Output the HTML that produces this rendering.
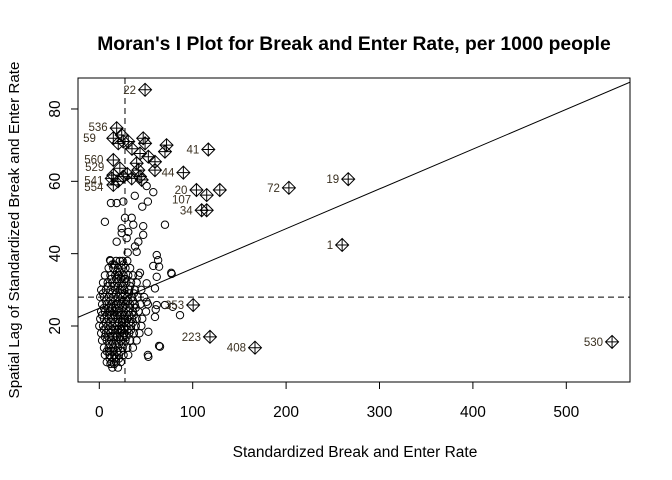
<!DOCTYPE html>
<html><head><meta charset="utf-8"><style>
html,body{margin:0;padding:0;background:#fff;}
svg{display:block;font-family:"Liberation Sans",Arial,sans-serif;}
</style></head><body>
<svg id="chart" width="672" height="480" viewBox="0 0 672 480"></svg>
<script>
const xTicks=[0,100,200,300,400,500];
const yTicks=[20,40,60,80];
const meanX=27.5, meanY=28;
const regIntercept=24.9, regSlope=0.11;
const points=[[12,38],[18,38],[22,38],[25,38],[30,38],[10,36],[15,36],[20,36],[24,36],[28,36],[33,36],
[6,34],[12,34],[17,34],[21,34],[26,34],[31,34],[36,34],[42,34],[4,32],[9,32],[14,32],[19,32],[24,32],[29,32],[34,32],[40,32],
[2,30],[7,30],[12,30],[17,30],[22,30],[27,30],[32,30],[38,30],[45,30],[1,28],[5,28],[10,28],[15,28],[20,28],[25,28],[30,28],[35,28],[41,28],[48,28],
[3,26],[8,26],[13,26],[18,26],[23,26],[28,26],[33,26],[38,26],[44,26],[52,26],[2,24],[6,24],[11,24],[16,24],[21,24],[26,24],[31,24],[36,24],[42,24],[50,24],
[1,22],[5,22],[10,22],[15,22],[20,22],[25,22],[30,22],[35,22],[40,22],[46,22],[0,20],[4,20],[9,20],[14,20],[19,20],[24,20],[29,20],[34,20],[39,20],[45,20],
[2,18],[7,18],[12,18],[17,18],[22,18],[27,18],[32,18],[37,18],[43,18],[3,16],[8,16],[13,16],[18,16],[23,16],[28,16],[33,16],[40,16],
[5,14],[10,14],[15,14],[20,14],[25,14],[30,14],[36,14],[6,12],[11,12],[16,12],[21,12],[26,12],[31,12],[8,10],[13,10],[18,10],[23,10],[14,8.5],[20,8.5],
[14,37],[19,35],[23,33],[16,31],[27,29],[12,27],[22,27],[17,25],[29,25],[8,23],[19,23],[24,21],[12,21],[17,19],[30,19],[6,17],[22,17],[14,15],[26,15],[10,13],[18,11],
[13,33],[18,33],[27,33],[33,31],[9,31],[20,31],[25,31],[4,29],[14,29],[18,29],[23,29],[32,29],[37,29],[7,27],[17,27],[26,27],[31,27],[36,27],
[5,25],[10,25],[14,25],[21,25],[25,25],[33,25],[39,25],[3,23],[13,23],[16,23],[22,23],[27,23],[32,23],[37,23],[7,21],[17,21],[21,21],[27,21],[32,21],[36,21],
[5,19],[10,19],[14,19],[20,19],[24,19],[27,19],[34,19],[10,17],[15,17],[19,17],[25,17],[29,17],[11,15],[17,15],[21,15],[8,13],[13,13],[19,13],[23,13],[16,11],[11,11],[21,11],
[20,34],[16,37],[26,37],[22,35],[28,33],[24,30],[29,27],[20,26],[24,23],[12,24],[27,22],[23,19],[26,18],[12,17],[15,13],[16,9.5],[12,9.5],
[12.5,54],[18.6,54],[25.7,54.4],[38,56],[50.7,58.7],[57.8,57],[52,54.4],[46,53],[6,48.8],[27.5,49.9],[34.7,49.9],[36.4,48],[47,47.6],[70.3,48],[24,47],[31,46],[24,45.7],[47,45.2],
[18.6,43.3],[29.3,44.3],[41.8,43.3],[38.2,42],[40,40.5],[30.4,40.3],[61.5,39.6],[63,38.2],[57.8,36.6],[64,36.4],[77,34.7],[11.5,38.2],
[43.6,34.7],[61.5,33.6],[77.5,34.4],[50.7,31.8],[59.6,30.4],[50.7,26.7],[61.5,25.8],[60.4,24.6],[59.6,22.5],[52.5,18.4],[65,14.3],[52.5,11.5],[86.4,23],[70.3,25.8],[78.6,25.3],[52,12],[64,14.5]];
const infl=[[49,85.3],[18.6,74.7],[24,72.8],[25.7,71],[20.3,70.5],[31,71],[47,71.9],[49,70.5],[72,70],[70.3,68.2],[116.7,68.8],[15,65.9],[43.6,67.7],[52.5,66.8],[59.6,65.4],[40,65],[22,63.6],[41.8,63.1],[59.6,63.1],[90,62.4],[13.3,60.8],[15,59],[15,61.7],[25.7,61.3],[34.7,60.8],[43.6,61.3],[45.4,60.4],[104,57.6],[115,56.2],[129,57.6],[109.6,52],[115,52],[15,71.9],[203,58.2],[266.5,60.6],[260,42.4],[100.5,25.8],[118.5,17],[166.7,14],[549,15.6],[30,62],[20,60],[35,69]];
const labels=[["22",49,85.3],["536",18.6,75],["59",6,72],["560",14,66],["529",15,64],["541",14,60.2],["554",14,58.4],["41",116.7,68.8],["44",90,62.4],["20",104,57.6],["107",108,55],["34",109.6,52],["72",203,58.2],["19",266.5,60.6],["1",260,42.4],["353",100.5,25.8],["223",118.5,17],["408",166.7,14],["530",549,15.6]];
const NS="http://www.w3.org/2000/svg";
const svg=document.getElementById('chart');
const L=78,R=630,T=78,B=382;
function sx(v){return 99.3+0.934*v;}
function sy(v){return 326-(v-20)*3.617;}
function mk(tag,attrs,parent){const e=document.createElementNS(NS,tag);for(const k in attrs)e.setAttribute(k,attrs[k]);(parent||svg).appendChild(e);return e;}
const defs=mk('defs',{});const cp=mk('clipPath',{id:'pc'},defs);mk('rect',{x:L,y:T,width:R-L,height:B-T},cp);
const title=mk('text',{x:354,y:50,'text-anchor':'middle','font-size':'19.3','font-weight':'bold'});title.textContent="Moran's I Plot for Break and Enter Rate, per 1000 people";


const xt=mk('text',{x:355,y:457,'text-anchor':'middle','font-size':'15.5'});xt.textContent="Standardized Break and Enter Rate";


const yt=mk('text',{x:0,y:0,'text-anchor':'middle','font-size':'15.2',transform:'translate(19,230) rotate(-90)'});yt.textContent="Spatial Lag of Standardized Break and Enter Rate";


const box=mk('rect',{x:L,y:T,width:R-L,height:B-T,fill:'none',stroke:'#000','stroke-width':1});


xTicks.forEach(v=>{const x=sx(v);mk('line',{x1:x,x2:x,y1:B,y2:B+7,stroke:'#000'});
const t=mk('text',{x:x,y:417,'text-anchor':'middle','font-size':'15.5'});t.textContent=v;

});
yTicks.forEach(v=>{const y=sy(v);mk('line',{x1:L-7,x2:L,y1:y,y2:y,stroke:'#000'});
const t=mk('text',{x:0,y:0,'text-anchor':'middle','font-size':'15.5',transform:`translate(60,${y}) rotate(-90)`});t.textContent=v;

});
const g=mk('g',{'clip-path':'url(#pc)'});


const hl=mk('line',{x1:L,x2:R,y1:sy(meanY),y2:sy(meanY),stroke:'#000','stroke-dasharray':'6,4'},g);


const vl=mk('line',{x1:sx(meanX),x2:sx(meanX),y1:T,y2:B,stroke:'#000','stroke-dasharray':'6,4'},g);


const x0=-30,x1=600;
const rl=mk('line',{x1:sx(x0),y1:sy(regIntercept+regSlope*x0),x2:sx(x1),y2:sy(regIntercept+regSlope*x1),stroke:'#000'},g);


points.forEach(p=>{const c=mk('circle',{cx:sx(p[0]),cy:sy(p[1]),r:3.7,fill:'none',stroke:'#000','stroke-width':1},g);

});
infl.forEach(p=>{const x=sx(p[0]),y=sy(p[1]),s=6.5;
const d=mk('path',{d:`M${x-s},${y}L${x},${y-s}L${x+s},${y}L${x},${y+s}ZM${x-s},${y}H${x+s}M${x},${y-s}V${y+s}`,fill:'none',stroke:'#000','stroke-width':1},g);

});
labels.forEach(l=>{const t=mk('text',{x:sx(l[1])-9,y:sy(l[2])+4,'text-anchor':'end','font-size':'11.5',fill:'#3a3020'});t.textContent=l[0];

});
</script>
</body></html>
